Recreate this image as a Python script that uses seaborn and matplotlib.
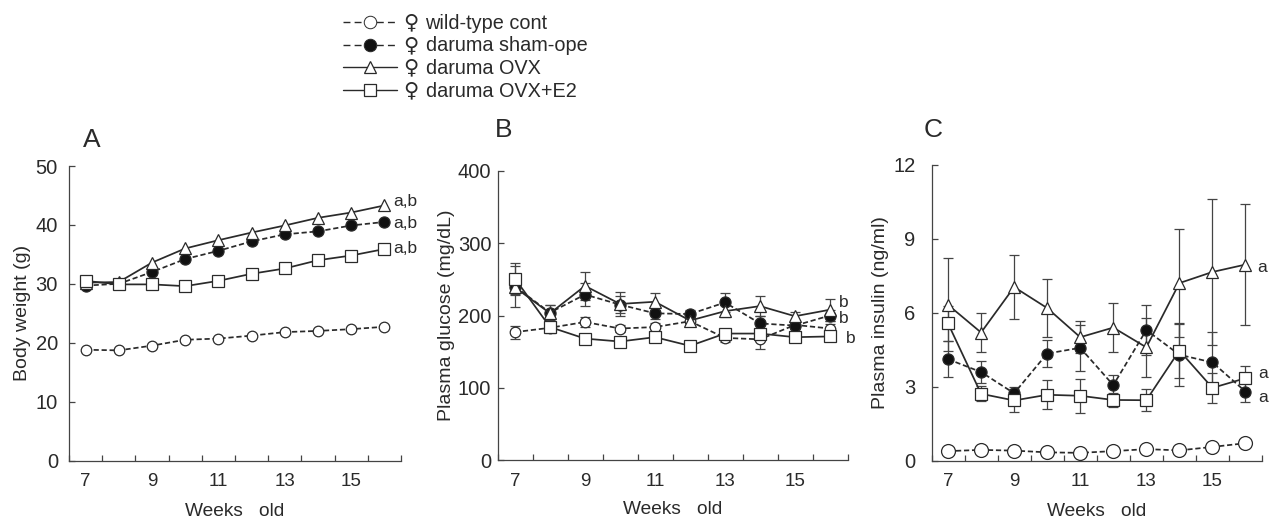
import matplotlib
matplotlib.use("Agg")
import matplotlib.pyplot as plt
from matplotlib.lines import Line2D
import pandas as pd
import seaborn as sns

sns.set_style("white")
plt.rcParams['font.family'] = ['Liberation Sans', 'DejaVu Sans']

weeks = [7, 8, 9, 10, 11, 12, 13, 14, 15, 16]
series_names = ["wt", "sham", "ovx", "e2"]
female_sign = "♀"
legend_labels = ["wild-type cont", "daruma sham-ope", "daruma OVX", "daruma OVX+E2"]

weight_wt = [18.8, 18.7, 19.5, 20.5, 20.7, 21.2, 21.8, 22.0, 22.3, 22.7]
weight_sham = [29.7, 30.0, 32.0, 34.2, 35.6, 37.2, 38.4, 38.9, 39.9, 40.5]
weight_ovx = [30.2, 30.3, 33.6, 36.0, 37.4, 38.7, 39.9, 41.2, 42.1, 43.3]
weight_e2 = [30.5, 29.9, 29.9, 29.6, 30.5, 31.7, 32.6, 34.0, 34.8, 35.9]

glucose_wt = [177, 183, 191, 182, 184, 192, 169, 167, 187, 182]
glucose_sham = [240, 204, 229, 215, 203, 202, 218, 189, 186, 200]
glucose_ovx = [239, 203, 241, 216, 219, 193, 206, 213, 199, 208]
glucose_e2 = [251, 184, 168, 164, 170, 158, 175, 175, 170, 171]
glucose_wt_err = [9, 6, 7, 5, 5, 6, 5, 14, 6, 6]
glucose_sham_err = [28, 10, 16, 12, 8, 6, 13, 10, 8, 8]
glucose_ovx_err = [11, 11, 19, 16, 12, 7, 8, 14, 6, 15]
glucose_e2_err = [21, 8, 5, 4, 6, 5, 4, 4, 4, 5]

insulin_wt = [0.40, 0.45, 0.42, 0.35, 0.33, 0.40, 0.48, 0.43, 0.57, 0.72]
insulin_sham = [4.12, 3.60, 2.74, 4.35, 4.58, 3.07, 5.30, 4.30, 3.99, 2.81]
insulin_ovx = [6.32, 5.20, 7.04, 6.19, 5.01, 5.40, 4.60, 7.20, 7.65, 7.95]
insulin_e2 = [5.57, 2.72, 2.45, 2.68, 2.64, 2.47, 2.46, 4.47, 2.96, 3.35]
insulin_wt_err = [0, 0, 0, 0, 0, 0, 0, 0, 0, 0]
insulin_sham_err = [0.72, 0.45, 0.25, 0.55, 0.94, 0.40, 1.00, 1.25, 1.25, 0.43]
insulin_ovx_err = [1.88, 0.80, 1.30, 1.17, 0.64, 1.00, 1.20, 2.20, 2.95, 2.45]
insulin_e2_err = [0.70, 0.30, 0.48, 0.58, 0.68, 0.30, 0.45, 1.10, 0.62, 0.48]

INK = "#2a2a2a"
W, H = 1269, 519
STYLES = {
    "wt": dict(marker="o", mfc="white", ls=(0, (3, 1.6))),
    "sham": dict(marker="o", mfc="#111111", ls=(0, (3, 1.6))),
    "ovx": dict(marker="^", mfc="white", ls="-"),
    "e2": dict(marker="s", mfc="white", ls="-"),
}
SIZES = {"sham": 8, "ovx": 8, "e2": 8}


def panel(box, ymax, yticks, ylabel, values, errs, wt_size, ylabel_x, ypad):
    left, right, top, bottom = box
    ax = fig.add_axes([left / W, 1 - bottom / H, (right - left) / W, (bottom - top) / H])
    ax.patch.set_alpha(0)
    for name in series_names:
        st = STYLES[name]
        df = pd.DataFrame({"week": weeks, "value": values[name]})
        ms = wt_size if name == "wt" else SIZES[name]
        if errs is not None and any(errs[name]):
            ax.errorbar(weeks, values[name], yerr=errs[name], fmt="none", ecolor="#444444",
                        elinewidth=0.9, capsize=3.4, capthick=0.9, zorder=2)
        sns.lineplot(data=df, x="week", y="value", ax=ax, color=INK, linewidth=1.25,
                     linestyle=st["ls"], marker=st["marker"], markersize=ms,
                     markerfacecolor=st["mfc"], markeredgecolor=INK, markeredgewidth=0.9,
                     zorder=3, clip_on=False)
    ax.set_xlim(6.5, 16.5)
    ax.set_ylim(0, ymax)
    ax.set_xticks([7, 9, 11, 13, 15])
    ax.set_xticks([6.5 + i for i in range(11)], minor=True)
    ax.set_yticks(yticks)
    ax.tick_params(axis="x", which="major", length=0, labelsize=13.5, pad=9, labelcolor=INK)
    ax.tick_params(axis="x", which="minor", bottom=True, length=4.5, width=0.9, direction="in",
                   color="#444444")
    ax.tick_params(axis="y", which="major", left=True, length=4.5, width=0.9, direction="in",
                   color="#444444", labelsize=14.5, pad=ypad, labelcolor=INK)
    for s in ["top", "right"]:
        ax.spines[s].set_visible(False)
    for s in ["left", "bottom"]:
        ax.spines[s].set_linewidth(0.9)
        ax.spines[s].set_color("#444444")
    ax.set_xlabel("Weeks   old", fontsize=13.8, color=INK)
    ax.xaxis.set_label_coords(0.5, -0.143)
    ax.set_ylabel(ylabel, fontsize=14, color=INK)
    ax.yaxis.set_label_coords((ylabel_x - left) / (right - left), 0.5)
    return ax


fig = plt.figure(figsize=(W / 100, H / 100), dpi=100, facecolor="white")

axA = panel((69, 401, 166, 460.5), 50, [0, 10, 20, 30, 40, 50], "Body weight (g)",
            dict(wt=weight_wt, sham=weight_sham, ovx=weight_ovx, e2=weight_e2), None, 7.6, 31, 8)
axB = panel((497.5, 847.5, 171, 460), 400, [0, 100, 200, 300, 400], "Plasma glucose (mg/dL)",
            dict(wt=glucose_wt, sham=glucose_sham, ovx=glucose_ovx, e2=glucose_e2),
            dict(wt=glucose_wt_err, sham=glucose_sham_err, ovx=glucose_ovx_err, e2=glucose_e2_err),
            7.6, 455, 4.5)
axC = panel((931.5, 1262, 164.5, 461), 12, [0, 3, 6, 9, 12], "Plasma insulin (ng/ml)",
            dict(wt=insulin_wt, sham=insulin_sham, ovx=insulin_ovx, e2=insulin_e2),
            dict(wt=insulin_wt_err, sham=insulin_sham_err, ovx=insulin_ovx_err, e2=insulin_e2_err),
            10, 889, 11.5)

for (px, py, letter) in [(83, 140, "A"), (495, 130, "B"), (924, 130, "C")]:
    fig.text(px / W, 1 - py / H, letter, fontsize=19, color=INK, va="center", ha="left")

note = dict(fontsize=12.5, color=INK, va="center", ha="left", clip_on=False)
axA.text(16.28, 43.9, "a,b", **note)
axA.text(16.28, 40.3, "a,b", **note)
axA.text(16.28, 36.0, "a,b", **note)
axB.text(16.25, 218, "b", **note)
axB.text(16.25, 196, "b", **note)
axB.text(16.45, 168, "b", **note)
axC.text(16.35, 7.85, "a", **note)
axC.text(16.4, 3.55, "a", **note)
axC.text(16.4, 2.55, "a", **note)

handles = [
    Line2D([], [], color=INK, lw=1.0, ls=(0, (5, 3)), marker="o", ms=9, mfc="white", mec=INK, mew=0.7),
    Line2D([], [], color=INK, lw=1.0, ls=(0, (5, 3)), marker="o", ms=9, mfc="#111111", mec=INK, mew=0.7),
    Line2D([], [], color=INK, lw=1.0, marker="^", ms=8.5, mfc="white", mec=INK, mew=0.9),
    Line2D([], [], color=INK, lw=1.0, marker="s", ms=8.5, mfc="white", mec=INK, mew=0.9),
]
leg = fig.legend(handles, legend_labels, loc="upper left", bbox_to_anchor=(327 / W, 1 + 2 / H),
                 frameon=False, fontsize=14.3, handlelength=2.7, handletextpad=1.46,
                 labelspacing=0.18, borderpad=0.3, labelcolor=INK)
for py in [22, 45, 67, 90]:
    fig.text(411 / W, 1 - py / H, female_sign, fontsize=15, family="DejaVu Sans", color=INK,
             ha="center", va="center")

fig.savefig("out.png", dpi=100)
